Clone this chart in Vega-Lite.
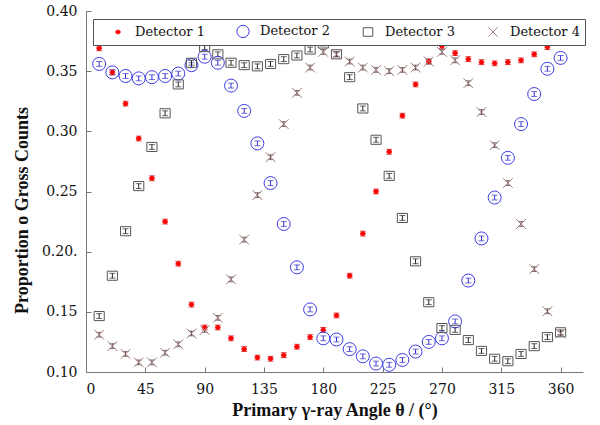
{
  "$schema": "https://vega.github.io/schema/vega-lite/v6.json",
  "width": 497,
  "height": 361,
  "autosize": "none",
  "padding": {"left": 86, "top": 11, "right": 17, "bottom": 53},
  "background": "white",
  "config": {
    "view": {"stroke": null},
    "font": "DejaVu Serif",
    "axis": {
      "grid": false,
      "domainColor": "#777777",
      "tickColor": "#777777",
      "tickSize": -5,
      "labelFont": "DejaVu Serif",
      "labelFontSize": 14,
      "labelColor": "#111111",
      "titleFont": "Liberation Serif",
      "titleFontSize": 18,
      "titleFontWeight": "bold",
      "titleColor": "#111111"
    }
  },
  "data": {
    "values": [
      {"det": "Detector 1", "theta": 10, "v": 0.369, "err": 0.002},
      {"det": "Detector 1", "theta": 20, "v": 0.349, "err": 0.002},
      {"det": "Detector 1", "theta": 30, "v": 0.323, "err": 0.002},
      {"det": "Detector 1", "theta": 40, "v": 0.294, "err": 0.002},
      {"det": "Detector 1", "theta": 50, "v": 0.261, "err": 0.002},
      {"det": "Detector 1", "theta": 60, "v": 0.225, "err": 0.002},
      {"det": "Detector 1", "theta": 70, "v": 0.190, "err": 0.002},
      {"det": "Detector 1", "theta": 80, "v": 0.156, "err": 0.002},
      {"det": "Detector 1", "theta": 90, "v": 0.137, "err": 0.002},
      {"det": "Detector 1", "theta": 100, "v": 0.137, "err": 0.002},
      {"det": "Detector 1", "theta": 110, "v": 0.128, "err": 0.002},
      {"det": "Detector 1", "theta": 120, "v": 0.119, "err": 0.002},
      {"det": "Detector 1", "theta": 130, "v": 0.112, "err": 0.002},
      {"det": "Detector 1", "theta": 140, "v": 0.111, "err": 0.002},
      {"det": "Detector 1", "theta": 150, "v": 0.114, "err": 0.002},
      {"det": "Detector 1", "theta": 160, "v": 0.121, "err": 0.002},
      {"det": "Detector 1", "theta": 170, "v": 0.129, "err": 0.002},
      {"det": "Detector 1", "theta": 180, "v": 0.135, "err": 0.002},
      {"det": "Detector 1", "theta": 190, "v": 0.147, "err": 0.002},
      {"det": "Detector 1", "theta": 200, "v": 0.180, "err": 0.002},
      {"det": "Detector 1", "theta": 210, "v": 0.215, "err": 0.002},
      {"det": "Detector 1", "theta": 220, "v": 0.250, "err": 0.002},
      {"det": "Detector 1", "theta": 230, "v": 0.283, "err": 0.002},
      {"det": "Detector 1", "theta": 240, "v": 0.313, "err": 0.002},
      {"det": "Detector 1", "theta": 250, "v": 0.339, "err": 0.002},
      {"det": "Detector 1", "theta": 260, "v": 0.358, "err": 0.002},
      {"det": "Detector 1", "theta": 270, "v": 0.371, "err": 0.002},
      {"det": "Detector 1", "theta": 280, "v": 0.365, "err": 0.002},
      {"det": "Detector 1", "theta": 290, "v": 0.360, "err": 0.002},
      {"det": "Detector 1", "theta": 300, "v": 0.3575, "err": 0.002},
      {"det": "Detector 1", "theta": 310, "v": 0.3565, "err": 0.002},
      {"det": "Detector 1", "theta": 320, "v": 0.3575, "err": 0.002},
      {"det": "Detector 1", "theta": 330, "v": 0.359, "err": 0.002},
      {"det": "Detector 1", "theta": 340, "v": 0.364, "err": 0.002},
      {"det": "Detector 1", "theta": 350, "v": 0.370, "err": 0.002},
      {"det": "Detector 1", "theta": 360, "v": 0.376, "err": 0.002},
      {"det": "Detector 2", "theta": 10, "v": 0.356, "err": 0.002},
      {"det": "Detector 2", "theta": 20, "v": 0.349, "err": 0.002},
      {"det": "Detector 2", "theta": 30, "v": 0.346, "err": 0.002},
      {"det": "Detector 2", "theta": 40, "v": 0.344, "err": 0.002},
      {"det": "Detector 2", "theta": 50, "v": 0.345, "err": 0.002},
      {"det": "Detector 2", "theta": 60, "v": 0.346, "err": 0.002},
      {"det": "Detector 2", "theta": 70, "v": 0.348, "err": 0.002},
      {"det": "Detector 2", "theta": 80, "v": 0.355, "err": 0.002},
      {"det": "Detector 2", "theta": 90, "v": 0.362, "err": 0.002},
      {"det": "Detector 2", "theta": 100, "v": 0.357, "err": 0.002},
      {"det": "Detector 2", "theta": 110, "v": 0.338, "err": 0.002},
      {"det": "Detector 2", "theta": 120, "v": 0.317, "err": 0.002},
      {"det": "Detector 2", "theta": 130, "v": 0.290, "err": 0.002},
      {"det": "Detector 2", "theta": 140, "v": 0.257, "err": 0.002},
      {"det": "Detector 2", "theta": 150, "v": 0.223, "err": 0.002},
      {"det": "Detector 2", "theta": 160, "v": 0.187, "err": 0.002},
      {"det": "Detector 2", "theta": 170, "v": 0.152, "err": 0.002},
      {"det": "Detector 2", "theta": 180, "v": 0.128, "err": 0.002},
      {"det": "Detector 2", "theta": 190, "v": 0.127, "err": 0.002},
      {"det": "Detector 2", "theta": 200, "v": 0.119, "err": 0.002},
      {"det": "Detector 2", "theta": 210, "v": 0.113, "err": 0.002},
      {"det": "Detector 2", "theta": 220, "v": 0.107, "err": 0.002},
      {"det": "Detector 2", "theta": 230, "v": 0.106, "err": 0.002},
      {"det": "Detector 2", "theta": 240, "v": 0.110, "err": 0.002},
      {"det": "Detector 2", "theta": 250, "v": 0.117, "err": 0.002},
      {"det": "Detector 2", "theta": 260, "v": 0.125, "err": 0.002},
      {"det": "Detector 2", "theta": 270, "v": 0.128, "err": 0.002},
      {"det": "Detector 2", "theta": 280, "v": 0.142, "err": 0.002},
      {"det": "Detector 2", "theta": 290, "v": 0.176, "err": 0.002},
      {"det": "Detector 2", "theta": 300, "v": 0.211, "err": 0.002},
      {"det": "Detector 2", "theta": 310, "v": 0.245, "err": 0.002},
      {"det": "Detector 2", "theta": 320, "v": 0.278, "err": 0.002},
      {"det": "Detector 2", "theta": 330, "v": 0.306, "err": 0.002},
      {"det": "Detector 2", "theta": 340, "v": 0.331, "err": 0.002},
      {"det": "Detector 2", "theta": 350, "v": 0.352, "err": 0.002},
      {"det": "Detector 2", "theta": 360, "v": 0.361, "err": 0.002},
      {"det": "Detector 3", "theta": 10, "v": 0.1465, "err": 0.002},
      {"det": "Detector 3", "theta": 20, "v": 0.180, "err": 0.002},
      {"det": "Detector 3", "theta": 30, "v": 0.217, "err": 0.002},
      {"det": "Detector 3", "theta": 40, "v": 0.2545, "err": 0.002},
      {"det": "Detector 3", "theta": 50, "v": 0.287, "err": 0.002},
      {"det": "Detector 3", "theta": 60, "v": 0.315, "err": 0.002},
      {"det": "Detector 3", "theta": 70, "v": 0.339, "err": 0.002},
      {"det": "Detector 3", "theta": 80, "v": 0.357, "err": 0.002},
      {"det": "Detector 3", "theta": 90, "v": 0.370, "err": 0.002},
      {"det": "Detector 3", "theta": 100, "v": 0.364, "err": 0.002},
      {"det": "Detector 3", "theta": 110, "v": 0.357, "err": 0.002},
      {"det": "Detector 3", "theta": 120, "v": 0.355, "err": 0.002},
      {"det": "Detector 3", "theta": 130, "v": 0.354, "err": 0.002},
      {"det": "Detector 3", "theta": 140, "v": 0.356, "err": 0.002},
      {"det": "Detector 3", "theta": 150, "v": 0.360, "err": 0.002},
      {"det": "Detector 3", "theta": 160, "v": 0.363, "err": 0.002},
      {"det": "Detector 3", "theta": 170, "v": 0.368, "err": 0.002},
      {"det": "Detector 3", "theta": 180, "v": 0.373, "err": 0.002},
      {"det": "Detector 3", "theta": 190, "v": 0.364, "err": 0.002},
      {"det": "Detector 3", "theta": 200, "v": 0.345, "err": 0.002},
      {"det": "Detector 3", "theta": 210, "v": 0.319, "err": 0.002},
      {"det": "Detector 3", "theta": 220, "v": 0.293, "err": 0.002},
      {"det": "Detector 3", "theta": 230, "v": 0.263, "err": 0.002},
      {"det": "Detector 3", "theta": 240, "v": 0.228, "err": 0.002},
      {"det": "Detector 3", "theta": 250, "v": 0.192, "err": 0.002},
      {"det": "Detector 3", "theta": 260, "v": 0.158, "err": 0.002},
      {"det": "Detector 3", "theta": 270, "v": 0.1365, "err": 0.002},
      {"det": "Detector 3", "theta": 280, "v": 0.135, "err": 0.002},
      {"det": "Detector 3", "theta": 290, "v": 0.1265, "err": 0.002},
      {"det": "Detector 3", "theta": 300, "v": 0.1175, "err": 0.002},
      {"det": "Detector 3", "theta": 310, "v": 0.111, "err": 0.002},
      {"det": "Detector 3", "theta": 320, "v": 0.109, "err": 0.002},
      {"det": "Detector 3", "theta": 330, "v": 0.115, "err": 0.002},
      {"det": "Detector 3", "theta": 340, "v": 0.1215, "err": 0.002},
      {"det": "Detector 3", "theta": 350, "v": 0.129, "err": 0.002},
      {"det": "Detector 3", "theta": 360, "v": 0.133, "err": 0.002},
      {"det": "Detector 4", "theta": 10, "v": 0.131, "err": 0.002},
      {"det": "Detector 4", "theta": 20, "v": 0.1215, "err": 0.002},
      {"det": "Detector 4", "theta": 30, "v": 0.115, "err": 0.002},
      {"det": "Detector 4", "theta": 40, "v": 0.108, "err": 0.002},
      {"det": "Detector 4", "theta": 50, "v": 0.108, "err": 0.002},
      {"det": "Detector 4", "theta": 60, "v": 0.116, "err": 0.002},
      {"det": "Detector 4", "theta": 70, "v": 0.123, "err": 0.002},
      {"det": "Detector 4", "theta": 80, "v": 0.132, "err": 0.002},
      {"det": "Detector 4", "theta": 90, "v": 0.135, "err": 0.002},
      {"det": "Detector 4", "theta": 100, "v": 0.145, "err": 0.002},
      {"det": "Detector 4", "theta": 110, "v": 0.177, "err": 0.002},
      {"det": "Detector 4", "theta": 120, "v": 0.210, "err": 0.002},
      {"det": "Detector 4", "theta": 130, "v": 0.247, "err": 0.002},
      {"det": "Detector 4", "theta": 140, "v": 0.2785, "err": 0.002},
      {"det": "Detector 4", "theta": 150, "v": 0.306, "err": 0.002},
      {"det": "Detector 4", "theta": 160, "v": 0.332, "err": 0.002},
      {"det": "Detector 4", "theta": 170, "v": 0.353, "err": 0.002},
      {"det": "Detector 4", "theta": 180, "v": 0.366, "err": 0.002},
      {"det": "Detector 4", "theta": 190, "v": 0.364, "err": 0.002},
      {"det": "Detector 4", "theta": 200, "v": 0.358, "err": 0.002},
      {"det": "Detector 4", "theta": 210, "v": 0.353, "err": 0.002},
      {"det": "Detector 4", "theta": 220, "v": 0.351, "err": 0.002},
      {"det": "Detector 4", "theta": 230, "v": 0.350, "err": 0.002},
      {"det": "Detector 4", "theta": 240, "v": 0.351, "err": 0.002},
      {"det": "Detector 4", "theta": 250, "v": 0.353, "err": 0.002},
      {"det": "Detector 4", "theta": 260, "v": 0.358, "err": 0.002},
      {"det": "Detector 4", "theta": 270, "v": 0.366, "err": 0.002},
      {"det": "Detector 4", "theta": 280, "v": 0.359, "err": 0.002},
      {"det": "Detector 4", "theta": 290, "v": 0.340, "err": 0.002},
      {"det": "Detector 4", "theta": 300, "v": 0.316, "err": 0.002},
      {"det": "Detector 4", "theta": 310, "v": 0.2885, "err": 0.002},
      {"det": "Detector 4", "theta": 320, "v": 0.257, "err": 0.002},
      {"det": "Detector 4", "theta": 330, "v": 0.223, "err": 0.002},
      {"det": "Detector 4", "theta": 340, "v": 0.1855, "err": 0.002},
      {"det": "Detector 4", "theta": 350, "v": 0.1505, "err": 0.002},
      {"det": "Detector 4", "theta": 360, "v": 0.132, "err": 0.002}
    ]
  },
  "encoding": {
    "x": {
      "field": "theta",
      "type": "quantitative",
      "scale": {"domain": [0, 377], "nice": false, "zero": false},
      "axis": {
        "values": [0, 45, 90, 135, 180, 225, 270, 315, 360],
        "labelPadding": 15,
        "title": "Primary γ-ray Angle θ / (°)",
        "titlePadding": 5
      }
    },
    "y": {
      "field": "v",
      "type": "quantitative",
      "scale": {"domain": [0.1, 0.4], "nice": false, "zero": false},
      "axis": {
        "values": [0.1, 0.15, 0.2, 0.25, 0.3, 0.35, 0.4],
        "labelExpr": "datum.value > 0.199 && datum.value < 0.201 ? '0.20.' : format(datum.value, '.2f')",
        "labelPadding": 14,
        "title": "Proportion o Gross Counts",
        "titleX": -55,
        "titleY": 199
      }
    }
  },
  "layer": [
    {
      "mark": {"type": "errorbar", "ticks": {"size": 6}, "thickness": 1},
      "encoding": {
        "yError": {"field": "err"},
        "color": {
          "field": "det",
          "type": "nominal",
          "legend": null,
          "scale": {
            "domain": ["Detector 4", "Detector 3", "Detector 2", "Detector 1"],
            "range": ["#5a4040", "#222222", "#3030d0", "#cc0000"]
          }
        }
      }
    },
    {
      "mark": {"type": "point", "strokeWidth": 1, "opacity": 1, "size": 169},
      "encoding": {
        "shape": {
          "field": "det",
          "type": "nominal",
          "scale": {
            "domain": ["Detector 1", "Detector 2", "Detector 3", "Detector 4"],
            "range": [
              "M-0.36,0A0.36,0.3 0 1,0 0.36,0A0.36,0.3 0 1,0 -0.36,0Z",
              "circle",
              "M-0.78,-0.7H0.78V0.7H-0.78Z",
              "M-0.75,-0.75L0.75,0.75M-0.75,0.75L0.75,-0.75"
            ]
          },
          "legend": {
            "title": null,
            "orient": "none",
            "legendX": 7,
            "legendY": 8,
            "direction": "horizontal",
            "columns": 4,
            "padding": 5,
            "strokeColor": "#555555",
            "fillColor": "white",
            "labelFont": "DejaVu Serif",
            "labelFontSize": 13,
            "labelColor": "#111111",
            "labelOffset": 10,
            "columnPadding": 18,
            "symbolSize": 150,
            "symbolStrokeWidth": 1,
            "symbolOffset": 13
          }
        },
        "stroke": {
          "field": "det",
          "type": "nominal",
          "title": null,
          "scale": {
            "domain": ["Detector 1", "Detector 2", "Detector 3", "Detector 4"],
            "range": ["#ff0000", "#3c3ce6", "#555555", "#a07c7c"]
          }
        },
        "fill": {
          "field": "det",
          "type": "nominal",
          "title": null,
          "scale": {
            "domain": ["Detector 1", "Detector 2", "Detector 3", "Detector 4"],
            "range": ["#ff0000", "transparent", "transparent", "transparent"]
          }
        }
      }
    }
  ]
}
